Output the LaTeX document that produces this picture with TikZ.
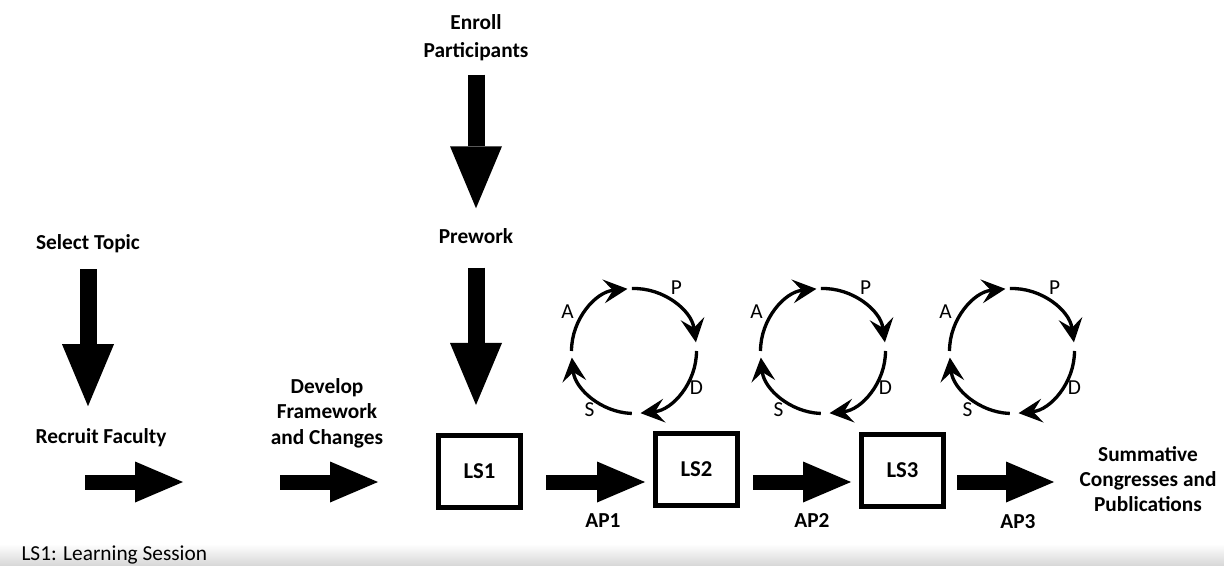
\documentclass[tikz,border=0pt]{standalone}
\usepackage{fontspec}
\setmainfont{Carlito}
\usetikzlibrary{arrows.meta}

\tikzset{every picture/.style={line width=0.75pt}}
\tikzset{
	label text/.style={font=\fontsize{16}{19}\selectfont\bfseries, inner sep=0pt, align=center},
	pdsa text/.style={font=\fontsize{16}{19}\selectfont, inner sep=0pt},
	ls box/.style={draw, line width=3.75pt, minimum width=61.5pt, minimum height=54pt, inner sep=0pt, font=\fontsize{17}{20}\selectfont\bfseries},
	down arrow/.style={line width=12.75pt, -{Triangle[length=46.5pt, width=39pt, line width=0pt]}},
	right arrow/.style={line width=11.25pt, -{Triangle[length=36pt, width=30.75pt, line width=0pt]}},
	cycle arc/.style={line width=2.5pt, -{Stealth[length=18pt, width=18pt, inset=7pt, line width=0pt]}}
}

\begin{document}
\begin{tikzpicture}[x=0.75pt,y=0.75pt,yscale=-1,xscale=1]
		\useasboundingbox (0,0) rectangle (1224,566);

		%Shape: Bottom strip
		\shade [top color=white, bottom color=black!16] (0,544) rectangle (1224,566) ;

		% Text Node
		\node[label text, font=\fontsize{16}{21}\selectfont\bfseries] (enroll) at (476,38) {Enroll\\Participants};
		\node[label text, anchor=base] (prework) at (476,244) {Prework};
		\node[label text, anchor=base] (topic) at (88,250) {Select Topic};
		\node[label text, anchor=base] (recruit) at (101,443) {Recruit Faculty};
		\node[label text] (develop) at (327,413) {Develop\\Framework\\and Changes};
		\node[label text] (summative) at (1148,479) {Summative\\Congresses and\\Publications};

		%Shape: Rectangle
		\node[ls box] (ls1) at (479.5,471.5) {LS1};
		\node[ls box] (ls2) at (696.5,469.5) {LS2};
		\node[ls box] (ls3) at (902.5,470.5) {LS3};

		% Text Node
		\node[label text, anchor=base] (ap1) at (603,527) {AP1};
		\node[label text, anchor=base] (ap2) at (812,527) {AP2};
		\node[label text, anchor=base] (ap3) at (1018,528) {AP3};

		\coordinate (row) at (0,482);
		\coordinate (r1a) at (85,482);
		\coordinate (r1b) at (183,482);
		\coordinate (r2a) at (280,482);
		\coordinate (r2b) at (378,482);

		%Block Arrows
		\draw[down arrow, shorten <=9.75pt, shorten >=15.2pt] (enroll.south) -- (prework.north);
		\draw[down arrow, shorten <=17.25pt, shorten >=21pt] (prework.south) -- (prework.south |- ls1.north);
		\draw[down arrow, shorten <=11.7pt, shorten >=16pt] (topic.south) -- (topic.south |- recruit.north);
		\draw[right arrow] (r1a) -- (r1b);
		\draw[right arrow] (r2a) -- (r2b);
		\draw[right arrow, shorten <=17.25pt, shorten >=6pt] (ls1.east |- row) -- (ls2.west |- row);
		\draw[right arrow, shorten <=9.75pt, shorten >=6pt] (ls2.east |- row) -- (ls3.west |- row);
		\draw[right arrow, shorten <=8.25pt, shorten >=18.75pt] (ls3.east |- row) -- (summative.west |- row);

		%PDSA cycles
		\foreach \cx/\n in {634/1,823/2,1012/3}{
			\draw[cycle arc] (\cx,351) ++(-180:62.5) arc[start angle=-180, end angle=-96, radius=62.5];
			\draw[cycle arc] (\cx,351) ++(-92:62.5) arc[start angle=-92, end angle=-8, radius=62.5];
			\draw[cycle arc] (\cx,351) ++(0:62.5) arc[start angle=0, end angle=84, radius=62.5];
			\draw[cycle arc] (\cx,351) ++(92:62.5) arc[start angle=92, end angle=174, radius=62.5];
			\node[pdsa text] (p\n) at (\cx+42.5,288) {P};
			\node[pdsa text] (d\n) at (\cx+62.5,388) {D};
			\node[pdsa text] (s\n) at (\cx-44.5,410) {S};
			\node[pdsa text] (a\n) at (\cx-66.5,312) {A};
		}

		% Text Node
		\node[pdsa text, anchor=base west] (legend) at (21,560) {LS1: Learning Session};

\end{tikzpicture}
\end{document}
